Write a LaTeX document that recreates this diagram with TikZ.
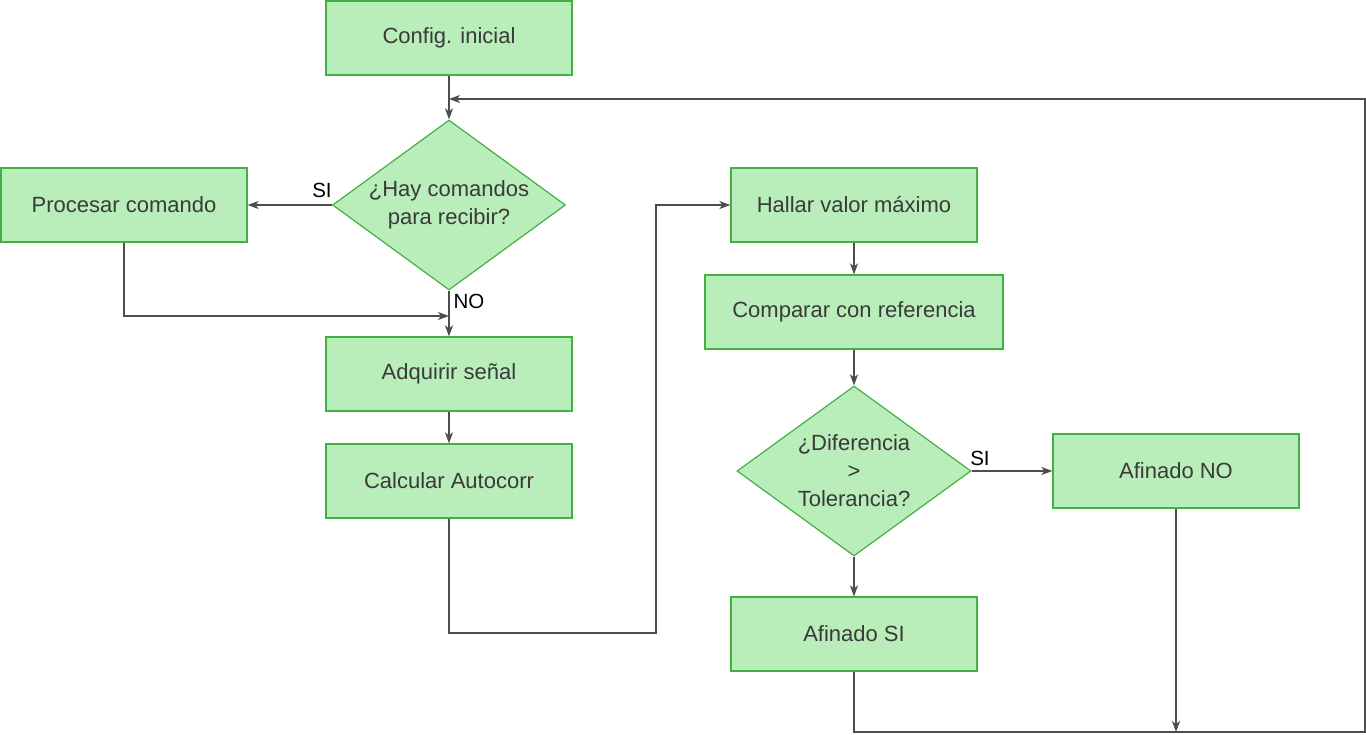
\documentclass[tikz,border=0pt]{standalone}
\usepackage{fontspec}
\setmainfont{Liberation Sans}
\usetikzlibrary{shapes.geometric,arrows.meta}
\definecolor{boxfill}{HTML}{B9EDB9}
\definecolor{boxline}{HTML}{44B044}
\definecolor{wire}{HTML}{4D4D4D}
\definecolor{txt}{HTML}{3A3A3A}
\tikzset{
  box/.style={draw=boxline, fill=boxfill, line width=1.2pt, inner sep=0pt,
    minimum height=74pt, text=txt, font=\fontsize{22}{28}\selectfont, align=center},
  dec/.style={diamond, draw=boxline, fill=boxfill, line width=1.2pt, inner sep=0pt,
    minimum width=233pt, minimum height=170pt},
  dectext/.style={inner sep=0pt, text=txt, font=\fontsize{22}{28}\selectfont, align=center},
  wireline/.style={draw=wire, line width=1.3pt, -{Stealth[length=11pt,width=8pt,inset=3pt]}},
  lab/.style={font=\fontsize{20.5}{24}\selectfont, text=black, inner sep=0pt}
}
\begin{document}
\begin{tikzpicture}[x=1pt,y=-1pt]
\useasboundingbox (0,0) rectangle (1366,734);
\node[box, minimum width=246pt] (cfg) at (449,38) {Config. inicial};
\node[dec] (d1) at (449,205) {};
\node[dectext] (d1t) at (449,205) {¿Hay comandos\\para recibir?};
\node[box, minimum width=246pt] (proc) at (124,205) {Procesar comando};
\node[box, minimum width=246pt] (adq) at (449,374) {Adquirir señal};
\node[box, minimum width=246pt] (calc) at (449,481) {Calcular Autocorr};
\node[box, minimum width=246pt] (hal) at (854,205) {Hallar valor máximo};
\node[box, minimum width=298pt] (comp) at (854,312) {Comparar con referencia};
\node[dec, minimum width=234pt] (d2) at (854,471) {};
\node[dectext] (d2t) at (854,471) {¿Diferencia\\>\\Tolerancia?};
\node[box, minimum width=246pt] (afno) at (1176,471) {Afinado NO};
\node[box, minimum width=246pt] (afsi) at (854,634) {Afinado SI};

\node[lab] (lsi1) at (322,190) {SI};
\node[lab] (lno) at (469,301) {NO};
\node[lab] (lsi2) at (980,458) {SI};

\coordinate (j1) at (449,316);
\coordinate (c2) at (656,633);
\coordinate (r1) at (1365,732);
\coordinate (r2) at (449,99);

\draw[wireline] (cfg.south) -- (d1.north);
\draw[wireline] (d1.west) -- (proc.east);
\draw[wireline] (proc.south) |- (j1);
\draw[wireline] (d1.south) -- (adq.north);
\draw[wireline] (adq.south) -- (calc.north);
\draw[wireline] (calc.south) |- (c2) |- (hal.west);
\draw[wireline] (hal.south) -- (comp.north);
\draw[wireline] (comp.south) -- (d2.north);
\draw[wireline] (d2.east) -- (afno.west);
\draw[wireline] (d2.south) -- (afsi.north);
\draw[wireline] (afsi.south) |- (r1) |- (r2);
\draw[wireline] (afno.south) -- (afno.south |- r1);
\end{tikzpicture}
\end{document}
